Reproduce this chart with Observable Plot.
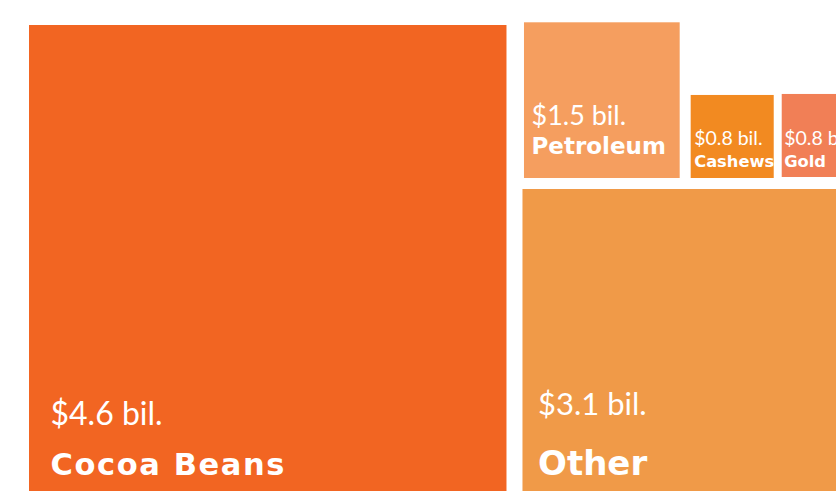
<!DOCTYPE html>
<html>
<head>
<meta charset="utf-8">
<script src="https://cdn.jsdelivr.net/npm/d3@7"></script>
<script src="https://cdn.jsdelivr.net/npm/@observablehq/plot@0.6"></script>
<style>
  html, body { margin: 0; padding: 0; background: #fff; overflow: hidden; }
  #chart svg { display: block; font-family: Lato, "Open Sans", sans-serif; }
</style>
</head>
<body>
<div id="chart"></div>
<script>
// ---- data ----
const categories = ["Cocoa Beans", "Petroleum", "Cashews", "Gold", "Other"];
const values = [4.6, 1.5, 0.8, 0.8, 3.1]; // billions of dollars
const valueLabels = ["$4.6 bil.", "$1.5 bil.", "$0.8 bil.", "$0.8 bil.", "$3.1 bil."];

// ---- style ----
const colors = ["#F26522", "#F59E5F", "#F28A21", "#F17F56", "#F09A48"];
const valueFont = [32, 27, 19.5, 19.5, 31];
const nameFont = [30.5, 23, 16.3, 16.3, 34];
const nameSpacing = [1.6, 0, 0, 0, 0];

// ---- layout: squares whose side is proportional to the value ----
const W = 836, H = 491;
const k = 103.8;            // px per billion
const side = values.map(v => v * k);
const rects = [];
// Cocoa beans: big square on the left
const c = {x1: 29, y1: 25}; c.x2 = c.x1 + side[0]; c.y2 = c.y1 + side[0];
rects[0] = c;
const colX = c.x2 + 16;     // right column start
const rowBottom = 178;      // bottom of the small-square row
const p = {x1: colX + 1.5, y2: rowBottom}; p.x2 = p.x1 + side[1]; p.y1 = p.y2 - side[1];
rects[1] = p;
const ca = {x1: p.x2 + 11, y2: rowBottom}; ca.x2 = ca.x1 + side[2]; ca.y1 = ca.y2 - side[2];
rects[2] = ca;
const g = {x1: ca.x2 + 8, y2: rowBottom - 1}; g.x2 = g.x1 + side[3]; g.y1 = g.y2 - side[3];
rects[3] = g;
const o = {x1: colX, y1: rowBottom + 11}; o.x2 = o.x1 + side[4]; o.y2 = o.y1 + side[4];
rects[4] = o;

// label placement (offsets from the square's corner)
const labelDx = [21, 7, 3, 2, 15];
const valueBase = [H - 67, rowBottom - 54, rowBottom - 34, rowBottom - 34, H - 77];
const nameBase = [H - 17, rowBottom - 25, rowBottom - 12, rowBottom - 12, H - 17];

const data = categories.map((name, i) => ({
  name, value: values[i], label: valueLabels[i], color: colors[i],
  ...rects[i],
  tx: rects[i].x1 + labelDx[i],
  vy: valueBase[i], ny: nameBase[i],
  vf: valueFont[i], nf: nameFont[i]
}));

const chart = Plot.plot({
  width: W,
  height: H,
  margin: 0,
  x: {type: "identity", axis: null},
  y: {type: "identity", axis: null},
  marks: [
    Plot.rect(data, {x1: "x1", x2: "x2", y1: "y1", y2: "y2", fill: "color"}),
    Plot.text(data, {x: "tx", y: "vy", text: "label", fill: "white", textAnchor: "start",
      lineAnchor: "bottom", fontSize: "vf", fontWeight: 400}),
    Plot.text(data, {x: "tx", y: "ny", text: "name", fill: "white", textAnchor: "start",
      lineAnchor: "bottom", fontSize: "nf", fontWeight: 700, fontFamily: "DejaVu Sans"})
  ]
});
// per-name letter spacing (second text layer)
const textLayers = chart.querySelectorAll('g[aria-label="text"]');
if (textLayers[1]) {
  textLayers[1].querySelectorAll("text").forEach((t, i) => {
    if (nameSpacing[i]) t.style.letterSpacing = nameSpacing[i] + "px";
  });
}
document.getElementById("chart").appendChild(chart);
</script>
</body>
</html>
